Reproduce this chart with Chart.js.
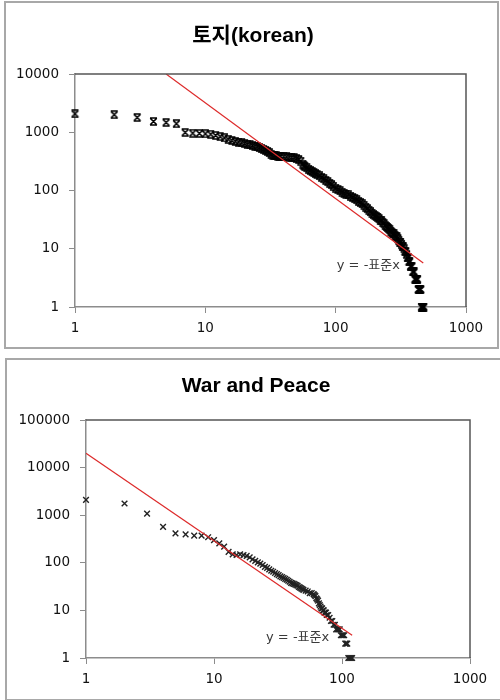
<!DOCTYPE html>
<html><head><meta charset="utf-8">
<script src="https://cdn.jsdelivr.net/npm/chart.js@4.4.1/dist/chart.umd.min.js"></script>
<style>
html,body{margin:0;padding:0;background:#fff;width:500px;height:700px;overflow:hidden;position:relative}
.box{position:absolute;border:2px solid #a8a8a8;box-sizing:border-box}
#b1{left:4px;top:1px;width:495px;height:348px}
#b2{left:5px;top:358px;width:520px;height:343px}
canvas{position:absolute;left:0}
#c1{top:0}
#c2{top:350px}
</style></head>
<body>
<div class="box" id="b1"></div>
<div class="box" id="b2"></div>
<canvas id="c1" width="500" height="350"></canvas>
<canvas id="c2" width="500" height="350"></canvas>
<script>
// ---- data ----
const topTitle = '토지(korean)';
const topRank = [1,2,3,4,5,6,7,8,9,10,11,12,13,14,15,16,17,18,19,20,21,22,23,24,25,26,27,28,29,30,31,32,33,34,35,36,37,38,40,42,44,46,48,50,52,54,56,57,58,60,62,64,66,68,70,72,75,78,81,84,87,90,93,96,100,104,108,112,116,120,125,130,135,140,145,150,155,160,165,170,175,180,185,190,195,200,205,210,215,220,225,230,235,240,245,250,255,260,265,270,275,280,285,290,295,300,305,310,315,320,325,330,335,340,345,350,355,360,365,370,375,380,385,390,395,400,405,410,415,420,425,430,435,440,445,450,455,460,465,470,475];
const topFreq = [2070,2000,1790,1530,1470,1400,990,965,955,940,925,880,840,800,760,720,700,680,660,640,620,605,590,575,560,540,520,505,490,470,445,420,405,398,393,390,388,385,382,378,375,370,365,352,340,320,285,265,255,245,232,222,212,203,195,188,178,168,158,149,141,133,126,119,110,104,99,94,90,87,84,80,76,72,69,65,62,59,56,52,49,46,43,41,39,37,36,35,33,31,30,28,27,25,24,23,22,21,20,19,18,18,17,16,16,15,14,13,13,12,11,11,10,9,9,8,7,7,6,6,5,5,5,4,4,4,3,3,3,3,3,2,2,2,2,2,1,1,1,1,1];
const topTrendX = [5, 470];
const topTrendY = [10000, 5.7];
const topXTicks = [1, 10, 100, 1000];
const topYTicks = [1, 10, 100, 1000, 10000];

const botTitle = 'War and Peace';
const botRank = [1,2,3,4,5,6,7,8,9,10,11,12,13,14,15,16,17,18,19,20,21,22,23,24,25,26,27,28,29,30,31,32,33,34,35,36,37,38,39,40,41,42,43,44,45,46,47,48,49,50,52,54,56,58,60,61,62,63,64,65,66,67,68,69,70,71,72,73,74,75,76,78,80,82,84,86,88,90,92,94,96,98,100,102,104,106,108,110,112,114,116,118,120];
const botFreq = [2100,1760,1080,570,415,395,372,372,345,300,256,218,170,150,146,150,145,140,130,118,110,102,96,90,82,78,73,68,65,61,58,55,52,50,48,46,44,42,40,38,37,36,35,34,33,31,30,29,28,27,26,25,23,23,22,21,20,18,17,16,14,13,12,11,11,10,10,9,9,9,8,8,7,6,6,5,5,4,4,4,4,3,3,3,3,2,2,2,1,1,1,1,1];
const botTrendX = [1, 120];
const botTrendY = [20000, 3.0];
const botXTicks = [1, 10, 100, 1000];
const botYTicks = [1, 10, 100, 1000, 10000, 100000];

const trendLabel = 'y = -표준x';

// ---- rendering ----
const TFONT = "'Liberation Sans','Noto Sans CJK KR',sans-serif";
const AFONT = "'DejaVu Sans','Noto Sans CJK KR',sans-serif";

function starMarker(){
  const c = document.createElement('canvas'); c.width = 9; c.height = 9;
  const g = c.getContext('2d');
  g.strokeStyle = '#000'; g.lineWidth = 1.6; g.beginPath();
  g.moveTo(1.2,1.2); g.lineTo(7.8,7.8); g.moveTo(7.8,1.2); g.lineTo(1.2,7.8);
  g.moveTo(1,1); g.lineTo(8,1); g.moveTo(1,8); g.lineTo(8,8);
  g.stroke();
  return c;
}

const framePlugin = {
  id: 'frame',
  afterDraw(chart, args, opts){
    const {ctx, chartArea: a, scales} = chart;
    ctx.save();
    ctx.strokeStyle = '#555'; ctx.lineWidth = 1.5;
    ctx.beginPath();
    ctx.moveTo(a.left, a.top); ctx.lineTo(a.right, a.top); ctx.lineTo(a.right, a.bottom);
    ctx.stroke();
    // title
    ctx.fillStyle = '#000';
    ctx.font = "bold 21px " + TFONT;
    ctx.textAlign = 'center'; ctx.textBaseline = 'middle';
    ctx.fillText(opts.title, opts.tx, opts.ty);
    // trendline label
    const px = scales.x.getPixelForValue(opts.lx);
    const py = scales.y.getPixelForValue(opts.ly);
    ctx.fillStyle = '#3a3a3a';
    ctx.font = "13px " + AFONT;
    ctx.textAlign = 'left'; ctx.textBaseline = 'middle';
    ctx.fillText(trendLabel, px, py);
    ctx.restore();
  }
};

function makeChart(id, cfg){
  const pts = cfg.rank.map((r,i)=>({x:r, y:cfg.freq[i]}));
  const tr = cfg.tx.map((r,i)=>({x:r, y:cfg.ty[i]}));
  return new Chart(document.getElementById(id), {
    type: 'scatter',
    data: { datasets: [
      { data: tr, showLine: true, borderColor: '#dd2a2a', borderWidth: 1.2, pointRadius: 0, clip: 0 },
      { data: pts, pointStyle: cfg.marker, pointRadius: cfg.radius, borderColor: cfg.mcolor,
        backgroundColor: cfg.mcolor, borderWidth: cfg.bw, clip: false }
    ]},
    options: {
      responsive: false, animation: false, devicePixelRatio: 1,
      layout: { padding: { left: 2, right: cfg.padR, top: cfg.padT, bottom: 0 } },
      plugins: {
        legend: { display: false }, tooltip: { enabled: false },
        title: { display: false },
        frame: { lx: cfg.lx, ly: cfg.ly, title: cfg.title, tx: cfg.titleX, ty: 36 }
      },
      scales: {
        x: { type: 'logarithmic', min: 1, max: 1000,
          afterBuildTicks: s => { s.ticks = cfg.xt.map(v=>({value:v})); },
          afterFit: s => { s.height = cfg.xh; },
          ticks: { padding: 7, color: '#111', font: { family: AFONT, size: 13.5 },
            maxRotation: 0, autoSkip: false, callback: v => String(v) },
          grid: { drawOnChartArea: false, drawTicks: true, tickLength: 6, color: '#8c8c8c' },
          border: { display: true, color: '#8c8c8c', width: 1.5 } },
        y: { type: 'logarithmic', min: 1, max: cfg.ymax,
          afterBuildTicks: s => { s.ticks = cfg.yt.map(v=>({value:v})); },
          afterFit: s => { s.width = cfg.yw; },
          ticks: { padding: 10, color: '#111', font: { family: AFONT, size: 13.5 },
            autoSkip: false, callback: v => String(v) },
          grid: { drawOnChartArea: false, drawTicks: true, tickLength: 6, color: '#8c8c8c' },
          border: { display: true, color: '#8c8c8c', width: 1.5 } }
      }
    },
    plugins: [framePlugin]
  });
}

makeChart('c1', { rank: topRank, freq: topFreq, tx: topTrendX, ty: topTrendY,
  title: topTitle, titleX: 253, xt: topXTicks, yt: topYTicks, ymax: 10000,
  marker: starMarker(), radius: 4.5, mcolor: '#000', bw: 1,
  padR: 34, padT: 74, yw: 73, xh: 43, lx: 102, ly: 5.06 });

makeChart('c2', { rank: botRank, freq: botFreq, tx: botTrendX, ty: botTrendY,
  title: botTitle, titleX: 256, xt: botXTicks, yt: botYTicks, ymax: 100000,
  marker: 'crossRot', radius: 4, mcolor: '#222', bw: 1.4,
  padR: 30, padT: 70, yw: 84, xh: 42, lx: 25.5, ly: 2.63 });
</script>
</body></html>
